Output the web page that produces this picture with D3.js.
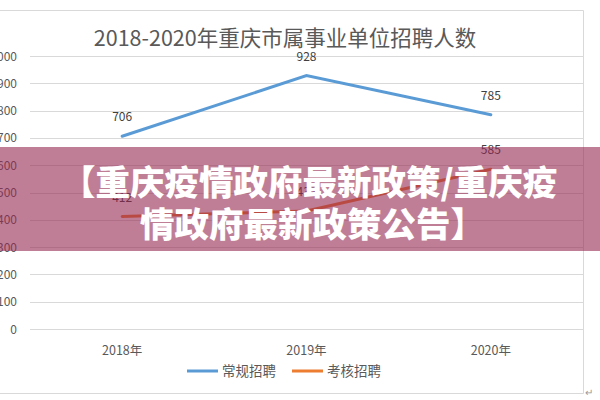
<!DOCTYPE html>
<html><head><meta charset="utf-8">
<script src="https://cdn.jsdelivr.net/npm/d3@7"></script>
<style>
html,body{margin:0;padding:0;background:#fff;}
svg{display:block;font-family:"Noto Sans CJK SC","Noto Sans",sans-serif;}
</style></head>
<body>
<svg id="c" width="600" height="400"></svg>
<script>
const title = "2018-2020年重庆市属事业单位招聘人数";
const categories = ["2018年", "2019年", "2020年"];
const seriesNames = ["常规招聘", "考核招聘"];
const regular = [706, 928, 785];
const assessed = [412, 432, 585];
const yTicks = [0, 100, 200, 300, 400, 500, 600, 700, 800, 900, 1000];
const bannerLines = ["【重庆疫情政府最新政策/重庆疫", "情政府最新政策公告】"];

const colors = ["#5B9BD5", "#ED7D31"];
const svg = d3.select("#c");

const x = d3.scalePoint().domain(categories).range([30, 583]).padding(0.5);
const y = d3.scaleLinear().domain([0, 1000]).range([329, 56]);

// frame
svg.append("path").attr("d", "M0,10.5H583.5V393.5H0")
  .attr("fill", "none").attr("stroke", "#d9d9d9").attr("stroke-width", 1);

// title
svg.append("text").attr("x", 285).attr("y", 46).attr("text-anchor", "middle")
  .attr("font-size", 21.5).attr("fill", "#595959").text(title);

// gridlines
svg.append("g").selectAll("line").data(yTicks).join("line")
  .attr("x1", 30).attr("x2", 583)
  .attr("y1", d => Math.round(y(d)) + 0.5).attr("y2", d => Math.round(y(d)) + 0.5)
  .attr("stroke", "#d9d9d9").attr("stroke-width", 1);

// y labels
svg.append("g").selectAll("text").data(yTicks).join("text")
  .attr("x", 17).attr("y", d => y(d) + 4.5).attr("text-anchor", "end")
  .attr("font-size", 12).attr("fill", "#595959").text(d => d);

// x labels
svg.append("g").selectAll("text").data(categories).join("text")
  .attr("x", d => x(d)).attr("y", 355).attr("text-anchor", "middle")
  .attr("font-size", 12.5).attr("fill", "#595959").text(d => d);

const line = d3.line().x((d, i) => x(categories[i])).y(d => y(d));
[regular, assessed].forEach((s, k) => {
  svg.append("path").datum(s).attr("d", line).attr("fill", "none")
    .attr("stroke", colors[k]).attr("stroke-width", 3).attr("stroke-linecap", "round");
  svg.append("g").selectAll("text").data(s).join("text")
    .attr("x", (d, i) => x(categories[i])).attr("y", d => y(d) - 15)
    .attr("text-anchor", "middle").attr("font-size", 12).attr("fill", "#404040").text(d => d);
});

// legend
const lg = svg.append("g");
const legendX = [187, 292];
seriesNames.forEach((n, k) => {
  lg.append("line").attr("x1", legendX[k]).attr("x2", legendX[k] + 31)
    .attr("y1", 371).attr("y2", 371).attr("stroke", colors[k]).attr("stroke-width", 3);
  lg.append("text").attr("x", legendX[k] + 35).attr("y", 376)
    .attr("font-size", 13.5).attr("fill", "#595959").text(n);
});

// return mark
svg.append("text").attr("x", 585).attr("y", 396).attr("font-size", 10).attr("fill", "#999").text("↵");

// banner overlay
svg.append("rect").attr("x", 0).attr("y", 147).attr("width", 600).attr("height", 104)
  .attr("fill", "rgba(150,40,80,0.6)");
const bx = [61, 140], by = [195, 237];
bannerLines.forEach((t, i) => {
  svg.append("text").attr("x", bx[i]).attr("y", by[i]).attr("font-size", 34.5)
    .attr("font-weight", "900").attr("fill", "#fff").text(t);
});
</script>
</body></html>
